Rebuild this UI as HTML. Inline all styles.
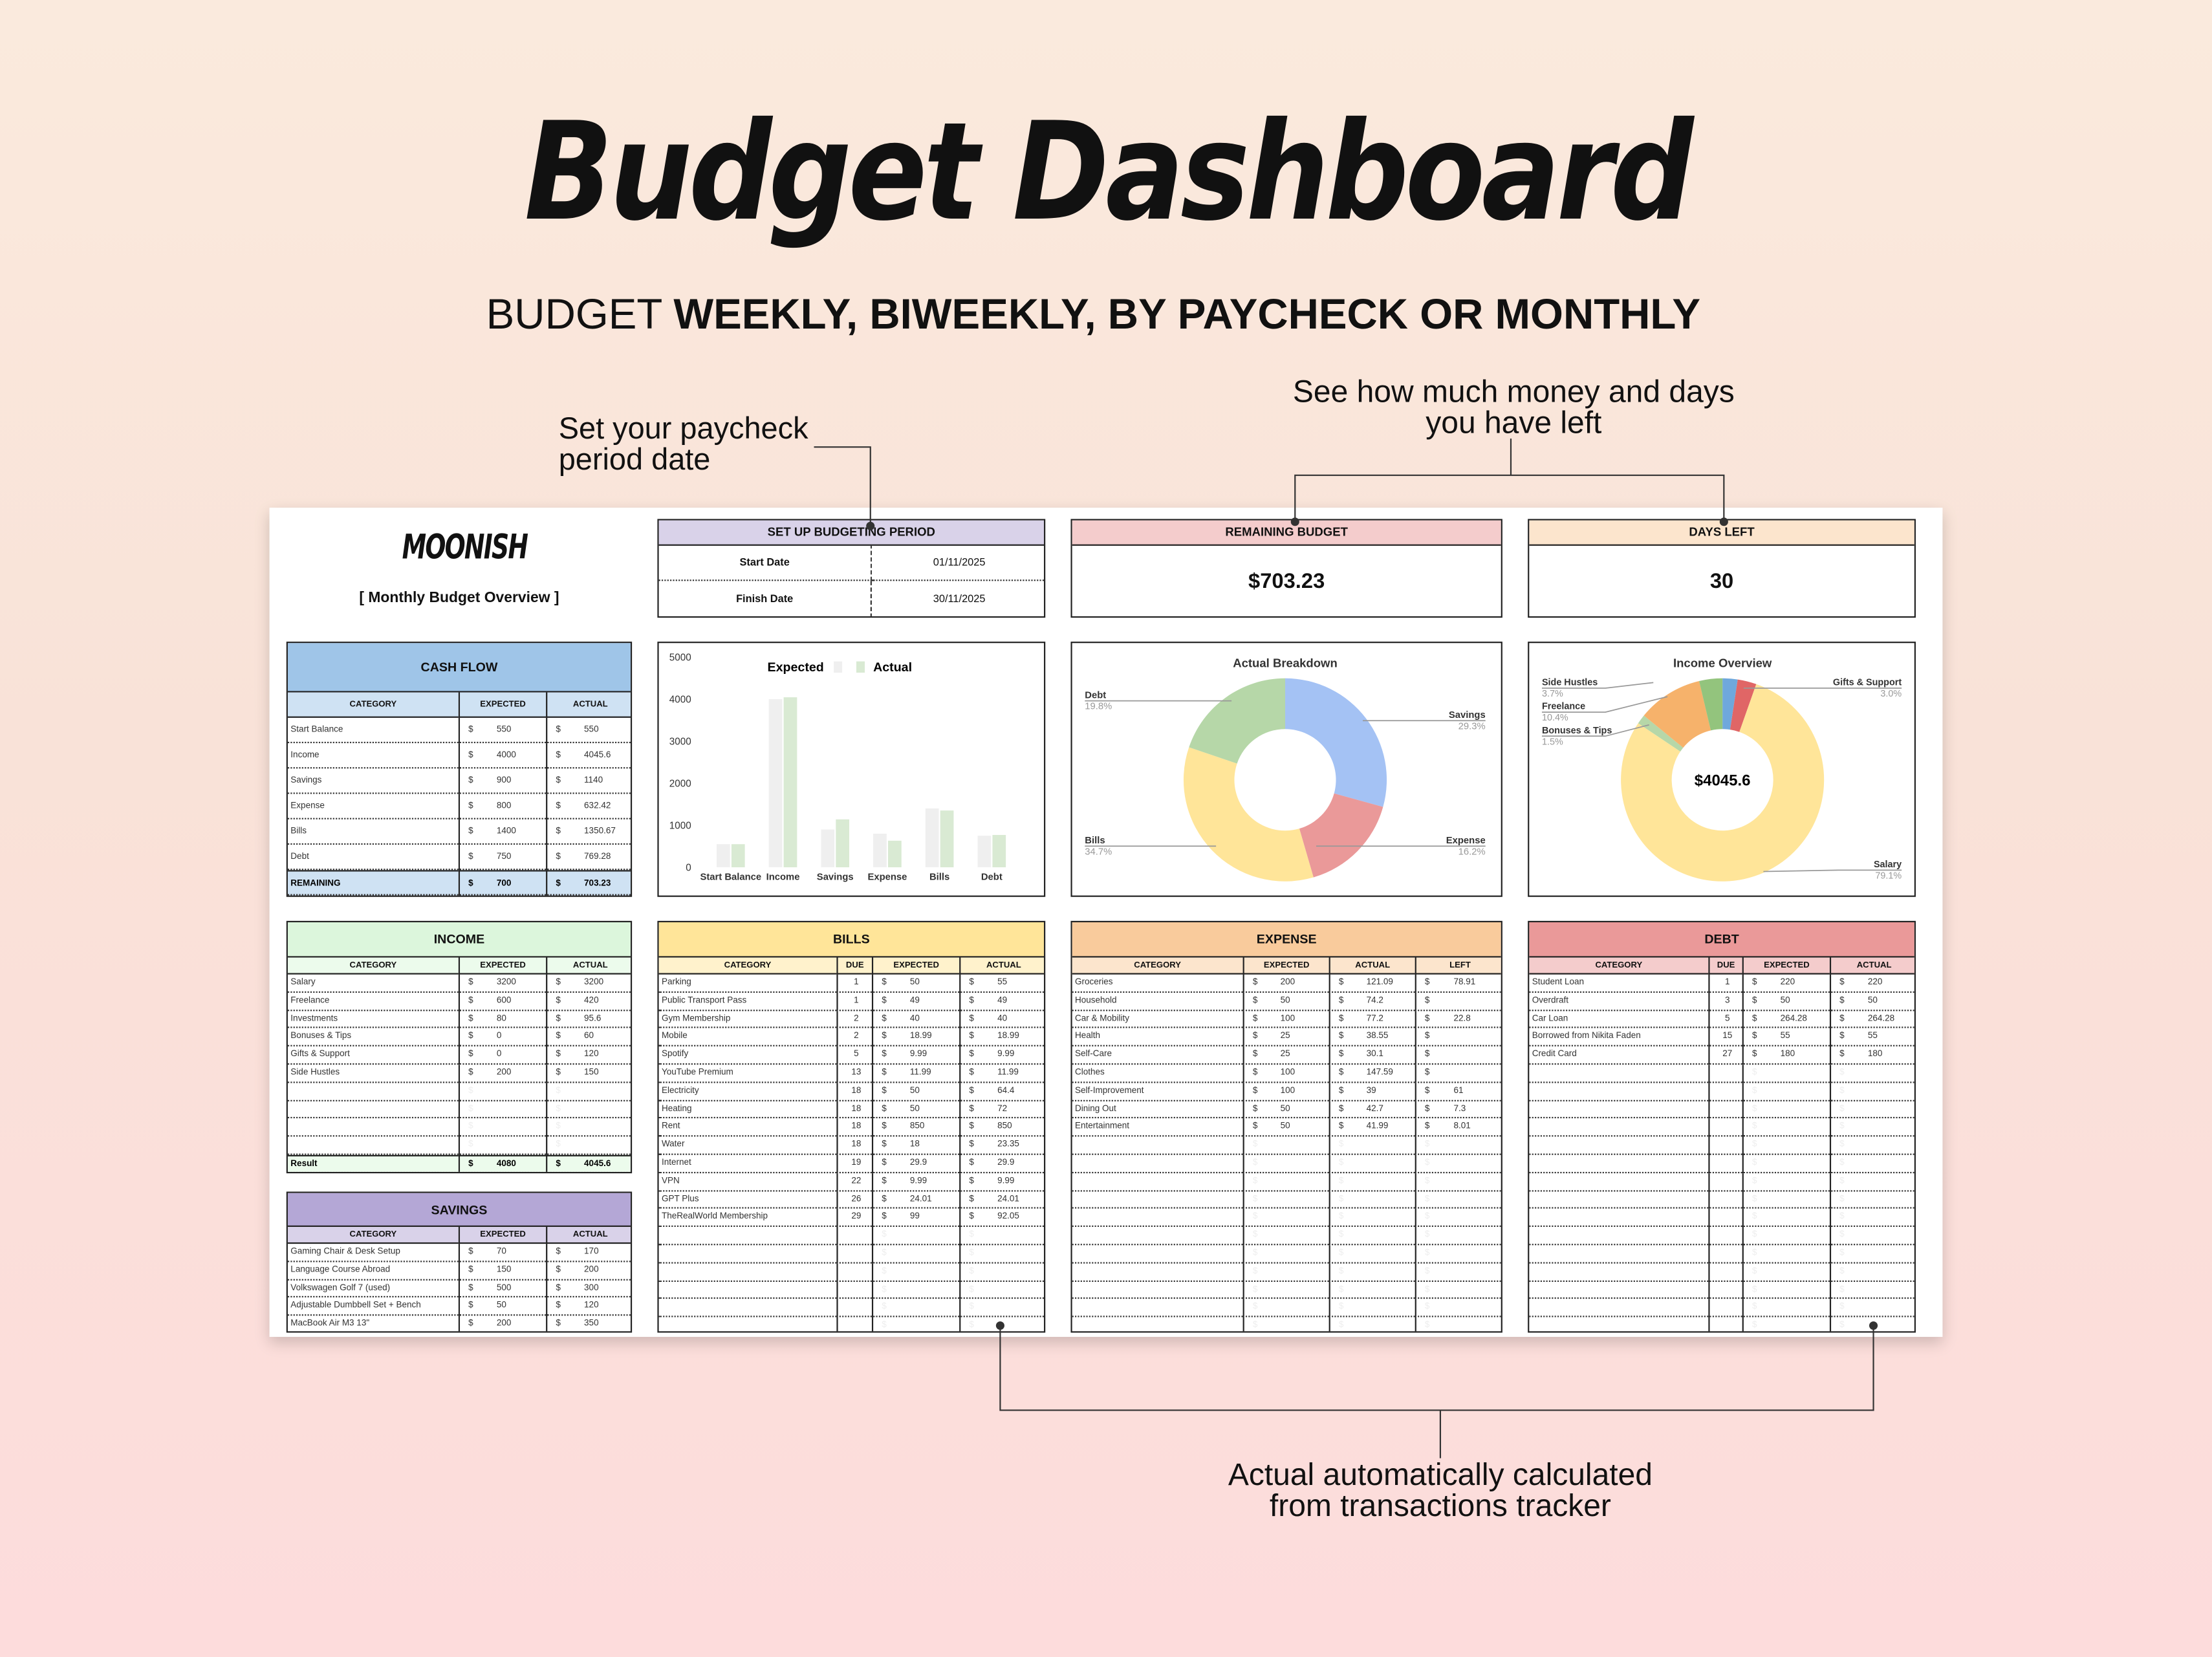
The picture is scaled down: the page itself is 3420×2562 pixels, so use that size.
<!DOCTYPE html>
<html><head><meta charset="utf-8">
<style>
html,body{margin:0;padding:0;width:3420px;height:2562px;overflow:hidden;}
body{background:linear-gradient(180deg,#faeadd 0%,#f9e2d8 45%,#fddcdc 100%);}
#s{position:absolute;left:0;top:0;width:1568px;height:1175px;transform-origin:0 0;transform:scale(2.18112,2.18043);font-family:"Liberation Sans",sans-serif;color:#111;}
.a{position:absolute;}
.sheet{position:absolute;left:191px;top:360px;width:1186px;height:588px;background:#fff;box-shadow:0 4px 10px rgba(0,0,0,.18);}
.box{position:absolute;border:1.3px solid #222;box-sizing:border-box;background:#fff;overflow:hidden;}
.hd{position:absolute;left:0;right:0;top:0;font-weight:bold;text-align:center;border-bottom:1.3px solid #222;box-sizing:border-box;}
.cell{position:absolute;box-sizing:border-box;overflow:hidden;white-space:nowrap;}
</style></head><body>
<div id="s">
<div class="a" style="left:0;width:1568px;top:66px;text-align:center;font:italic bold 96px 'DejaVu Sans',sans-serif;letter-spacing:-3px;color:#111;transform:scaleX(.86);transform-origin:790px 0">Budget Dashboard</div>
<div class="a" style="left:0;width:1550px;top:207px;text-align:center;font-size:30px;color:#111"><span style="font-weight:300">BUDGET </span><b>WEEKLY, BIWEEKLY, BY PAYCHECK OR MONTHLY</b></div>
<div class="a" style="left:396px;top:293px;font-size:21.5px;line-height:22px">Set your <span style="font-weight:500">paycheck</span><br>period date</div>
<div class="a" style="left:873px;width:400px;top:267px;text-align:center;font-size:22px;line-height:22px">See how much <span style="font-weight:500">money and days</span><br>you have left</div>
<div class="a" style="left:770px;width:502px;top:1035px;text-align:center;font-size:22px;line-height:22px">Actual <span style="font-weight:500">automatically calculated</span><br>from transactions tracker</div>

<div class="sheet"></div>
<div class="a" style="left:276px;top:374px;width:90px;text-align:center;font:italic bold 24px 'DejaVu Sans Condensed','DejaVu Sans',sans-serif;letter-spacing:-1px;transform:scaleX(.8)">MOONISH</div>
<div class="a" style="left:203px;width:245px;top:418px;text-align:center;font-size:10.5px;font-weight:bold">[ Monthly Budget Overview ]</div>

<div class="box" style="left:466px;top:368px;width:275px;height:70px">
 <div class="hd" style="height:18px;line-height:17px;background:#d9d2e9;font-size:8.5px">SET UP BUDGETING PERIOD</div>
 <div class="cell" style="left:0;top:17px;width:151px;height:26px;line-height:26px;text-align:center;font-size:7.5px;font-weight:bold;border-bottom:1px dotted #333;border-right:1px dashed #333">Start Date</div>
 <div class="cell" style="left:151px;top:17px;width:124px;height:26px;line-height:26px;text-align:center;font-size:7.5px;border-bottom:1px dotted #333">01/11/2025</div>
 <div class="cell" style="left:0;top:43px;width:151px;height:26px;line-height:26px;text-align:center;font-size:7.5px;font-weight:bold;border-right:1px dashed #333">Finish Date</div>
 <div class="cell" style="left:151px;top:43px;width:124px;height:26px;line-height:26px;text-align:center;font-size:7.5px">30/11/2025</div>
</div>
<div class="box" style="left:759px;top:368px;width:306px;height:70px">
 <div class="hd" style="height:18px;line-height:17px;background:#f4cccc;font-size:8.5px">REMAINING BUDGET</div>
 <div class="cell" style="left:0;right:0;top:18px;height:52px;line-height:52px;text-align:center;font-size:15px;font-weight:bold">$703.23</div>
</div>
<div class="box" style="left:1083px;top:368px;width:275px;height:70px">
 <div class="hd" style="height:18px;line-height:17px;background:#fce5cd;font-size:8.5px">DAYS LEFT</div>
 <div class="cell" style="left:0;right:0;top:18px;height:52px;line-height:52px;text-align:center;font-size:15px;font-weight:bold">30</div>
</div>

<div class="box" style="left:466px;top:455px;width:275px;height:181px"></div>
<div class="box" style="left:759px;top:455px;width:306px;height:181px"></div>
<div class="box" style="left:1083px;top:455px;width:275px;height:181px"></div>

<div id="tables"></div>
<svg id="ov" class="a" style="left:0;top:0" width="1568" height="1175" viewBox="0 0 1568 1175"></svg>
</div>

<script>
// ---------- chart data ----------
const barCats=["Start Balance","Income","Savings","Expense","Bills","Debt"];
const barExpected=[550,4000,900,800,1400,750];
const barActual=[550,4045.6,1140,632.42,1350.67,769.28];
const yTicks=[0,1000,2000,3000,4000,5000];
const abLabels=["Savings","Expense","Bills","Debt"];
const abValues=[29.3,16.2,34.7,19.8];
const abColors=["#a4c2f4","#ea9999","#ffe599","#b6d7a8"];
const ioLabels=["Investments","Gifts & Support","Salary","Bonuses & Tips","Freelance","Side Hustles"];
const ioValues=[2.4,3.0,79.1,1.5,10.4,3.7];
const ioColors=["#6fa8dc","#e06666","#ffe599","#b6d7a8","#f6b26b","#93c47d"];

const NS="http://www.w3.org/2000/svg";
const ov=document.getElementById('ov');
function sv(tag,at,parent){const e=document.createElementNS(NS,tag);for(const k in at)e.setAttribute(k,at[k]);(parent||ov).appendChild(e);return e;}
function txt(x,y,s,at){const e=sv('text',Object.assign({x:x,y:y,'font-family':'Liberation Sans, sans-serif'},at));e.textContent=s;return e;}

// annotation lines
const L={stroke:'#333','stroke-width':1,fill:'none'};
let e;
e=sv('polyline',Object.assign({points:'577,317 617,317 617,375'},L));


e=sv('polyline',Object.assign({points:'1071,311 1071,337'},L));
e=sv('polyline',Object.assign({points:'918,370 918,337 1222,337 1222,370'},L));


e=sv('polyline',Object.assign({points:'709,940 709,1000 1328,1000 1328,940'},L));


sv('polyline',Object.assign({points:'1021,1000 1021,1034'},L));
[[617,373],[918,370],[1222,370],[709,940],[1328,940]].forEach(p=>sv('circle',{cx:p[0],cy:p[1],r:3,fill:'#333'}));

// ---------- bar chart ----------
const by0=615, bpx=149/5000;
function yS(v){return by0-v*bpx;}
function xS(i){return 519+i*37;}
yTicks.forEach(t=>{const l=txt(490,yS(t)+2.5,String(t),{'font-size':7,'text-anchor':'end',fill:'#333'});

});
barCats.forEach((c,i)=>{
 const b1=sv('rect',{x:xS(i)-11,y:yS(barExpected[i]),width:9.5,height:barExpected[i]*bpx,fill:'#efefef'});
 
 
 const b2=sv('rect',{x:xS(i)-0.5,y:yS(barActual[i]),width:9.5,height:barActual[i]*bpx,fill:'#d9ead3'});
 
 
 const l=txt(xS(i)-1,624,c,{'font-size':6.8,'text-anchor':'middle',fill:'#333','font-weight':'bold'});
 
 
});
let lg=txt(584,476,'Expected',{'font-size':9,'text-anchor':'end','font-weight':'bold'});


sv('rect',{x:591,y:469,width:6,height:8,fill:'#efefef'});
sv('rect',{x:607,y:469,width:6,height:8,fill:'#d9ead3'});
lg=txt(619,476,'Actual',{'font-size':9,'font-weight':'bold'});



// ---------- donuts ----------
function arc(cx,cy,R,r,a0,a1){
 const p=(a,rad)=>[cx+rad*Math.sin(a),cy-rad*Math.cos(a)];
 const lf=(a1-a0)>Math.PI?1:0;
 const [x0,y0]=p(a0,R),[x1,y1]=p(a1,R),[x2,y2]=p(a1,r),[x3,y3]=p(a0,r);
 return `M${x0},${y0}A${R},${R} 0 ${lf} 1 ${x1},${y1}L${x2},${y2}A${r},${r} 0 ${lf} 0 ${x3},${y3}Z`;
}
function donut(cx,cy,vals,cols,name){
 const tot=vals.reduce((a,b)=>a+b,0);let a=0;
 vals.forEach((v,i)=>{const a1=a+v/tot*2*Math.PI;
  const p=sv('path',{d:arc(cx,cy,72,36,a,a1),fill:cols[i]});
  
  
  a=a1;});
}
donut(911,553,abValues,abColors,'breakdown');
donut(1221,553,ioValues,ioColors,'income');
let tt=txt(911,473,'Actual Breakdown',{'font-size':8.5,'text-anchor':'middle','font-weight':'bold',fill:'#333'});


tt=txt(1221,473,'Income Overview',{'font-size':8.5,'text-anchor':'middle','font-weight':'bold',fill:'#333'});


tt=txt(1221,557,'$4045.6',{'font-size':11,'text-anchor':'middle','font-weight':'bold'});


const abPos=[[0,1053,509,'end',966],[1,1053,598,'end',933],[2,769,598,'start',862],[3,769,495,'start',873]];
abPos.forEach(p=>{const i=p[0];
 const l=txt(p[1],p[2],abLabels[i],{'font-size':6.8,'text-anchor':p[3],'font-weight':'bold',fill:'#333'});
 
 
 txt(p[1],p[2]+8,abValues[i].toFixed(1)+'%',{'font-size':6.8,'text-anchor':p[3],fill:'#999'});
 sv('line',{x1:p[1],y1:p[2]+2,x2:p[4],y2:p[2]+2,stroke:'#999','stroke-width':0.8});
});
const ioPos=[[5,1093,486,'start',1172,484],[4,1093,503,'start',1182,494],[3,1093,520,'start',1169,514],[1,1348,486,'end',1236,488],[2,1348,615,'end',1250,618]];
ioPos.forEach(p=>{const i=p[0];
 const l=txt(p[1],p[2],ioLabels[i],{'font-size':6.6,'text-anchor':p[3],'font-weight':'bold',fill:'#333'});
 
 
 txt(p[1],p[2]+8,ioValues[i].toFixed(1)+'%',{'font-size':6.6,'text-anchor':p[3],fill:'#999'});
 const ex=p[3]==='start'?p[1]+45:p[1]-45;
 sv('polyline',{points:`${p[1]},${p[2]+2} ${ex},${p[2]+2} ${p[4]},${p[5]}`,stroke:'#999','stroke-width':0.8,fill:'none'});
});

// ---------- tables ----------
const T=document.getElementById('tables');
function mk(parent,style,html){const d=document.createElement('div');d.className='cell';d.style.cssText=style;if(html!==undefined)d.innerHTML=html;parent.appendChild(d);return d;}
function table(o){
 const b=document.createElement('div');b.className='box';
 b.style.cssText=`left:${o.x}px;top:${o.y}px;width:${o.w}px;height:${o.h}px`;
 
 
 T.appendChild(b);
 mk(b,`left:0;right:0;top:0;height:${o.hh}px;line-height:${o.hh}px;background:${o.c1};text-align:center;font-weight:bold;font-size:9px;border-bottom:1.3px solid #222`,o.title);
 let x=0;const xs=[];o.cols.forEach(w=>{xs.push(x);x+=w;});
 const y1=o.hh;
 o.heads.forEach((h,i)=>mk(b,`left:${xs[i]}px;width:${o.cols[i]}px;top:${y1}px;height:${o.ch}px;line-height:${o.ch}px;background:${o.c2};text-align:center;font-weight:bold;font-size:6px;border-bottom:1.3px solid #222;${i?'border-left:1px solid #222':''}`,h));
 let y=y1+o.ch;
 for(let r=0;r<o.n;r++){
  const row=o.rows[r]||[];
  const last=o.foot&&r===o.n-1;
  const data=last?o.foot:row;
  o.cols.forEach((w,i)=>{
   let v=data[i];let inner='';
   const money=o.money.includes(i);
   if(money){inner=`<span style="position:absolute;left:6px;${v===undefined?'color:#eee':''}">$</span>`+(v!==undefined&&v!==''?`<span style="position:absolute;left:${w*0.42}px">${v}</span>`:'');}
   else if(v!==undefined) inner=v;
   mk(b,`left:${xs[i]}px;width:${w}px;top:${y}px;height:${o.rh}px;line-height:${o.rh}px;font-size:6.2px;color:${last?'#000':'#333'};${last?'font-weight:bold;background:'+o.c2+';border-top:1.3px solid #222;':''}text-align:${money?'left':(o.center&&o.center.includes(i)?'center':'left')};padding-left:${money?0:2}px;border-bottom:1px dotted #333;${i?'border-left:1px solid #222':''}`,inner);
  });
  y+=o.rh;
 }
}
table({name:'cash-flow-table',x:203,y:455,w:245,h:181,hh:35,ch:18,rh:18,cols:[121,62,62],title:'CASH FLOW',heads:['CATEGORY','EXPECTED','ACTUAL'],c1:'#9fc5e8',c2:'#cfe2f3',n:7,money:[1,2],
 rows:[['Start Balance',550,550],['Income',4000,4045.6],['Savings',900,1140],['Expense',800,632.42],['Bills',1400,1350.67],['Debt',750,769.28]],foot:['REMAINING',700,703.23]});
table({name:'income-table',x:203,y:653,w:245,h:179,hh:25,ch:12,rh:12.8,cols:[121,62,62],title:'INCOME',heads:['CATEGORY','EXPECTED','ACTUAL'],c1:'#dcf6dc',c2:'#ecfbec',n:11,money:[1,2],
 rows:[['Salary',3200,3200],['Freelance',600,420],['Investments',80,95.6],['Bonuses &amp; Tips',0,60],['Gifts &amp; Support',0,120],['Side Hustles',200,150]],foot:['Result',4080,4045.6]});
table({name:'savings-table',x:203,y:845,w:245,h:100,hh:24,ch:12,rh:12.8,cols:[121,62,62],title:'SAVINGS',heads:['CATEGORY','EXPECTED','ACTUAL'],c1:'#b4a7d6',c2:'#d9d2e9',n:6,money:[1,2],
 rows:[['Gaming Chair &amp; Desk Setup',70,170],['Language Course Abroad',150,200],['Volkswagen Golf 7 (used)',500,300],['Adjustable Dumbbell Set + Bench',50,120],['MacBook Air M3 13"',200,350]]});
table({name:'bills-table',x:466,y:653,w:275,h:292,hh:25,ch:12,rh:12.8,cols:[126,25,62,62],title:'BILLS',heads:['CATEGORY','DUE','EXPECTED','ACTUAL'],c1:'#ffe599',c2:'#fff2cc',n:20,money:[2,3],center:[1],
 rows:[['Parking',1,50,55],['Public Transport Pass',1,49,49],['Gym Membership',2,40,40],['Mobile',2,18.99,18.99],['Spotify',5,9.99,9.99],['YouTube Premium',13,11.99,11.99],['Electricity',18,50,64.4],['Heating',18,50,72],['Rent',18,850,850],['Water',18,18,23.35],['Internet',19,29.9,29.9],['VPN',22,9.99,9.99],['GPT Plus',26,24.01,24.01],['TheRealWorld Membership',29,99,92.05]]});
table({name:'expense-table',x:759,y:653,w:306,h:292,hh:25,ch:12,rh:12.8,cols:[121,61,61,63],title:'EXPENSE',heads:['CATEGORY','EXPECTED','ACTUAL','LEFT'],c1:'#f9cb9c',c2:'#fce5cd',n:20,money:[1,2,3],
 rows:[['Groceries',200,121.09,78.91],['Household',50,74.2,''],['Car &amp; Mobility',100,77.2,22.8],['Health',25,38.55,''],['Self-Care',25,30.1,''],['Clothes',100,147.59,''],['Self-Improvement',100,39,61],['Dining Out',50,42.7,7.3],['Entertainment',50,41.99,8.01]]});
table({name:'debt-table',x:1083,y:653,w:275,h:292,hh:25,ch:12,rh:12.8,cols:[127,24,62,62],title:'DEBT',heads:['CATEGORY','DUE','EXPECTED','ACTUAL'],c1:'#ea9999',c2:'#f4cccc',n:20,money:[2,3],center:[1],
 rows:[['Student Loan',1,220,220],['Overdraft',3,50,50],['Car Loan',5,264.28,264.28],['Borrowed from Nikita Faden',15,55,55],['Credit Card',27,180,180]]});
</script>
</body></html>
